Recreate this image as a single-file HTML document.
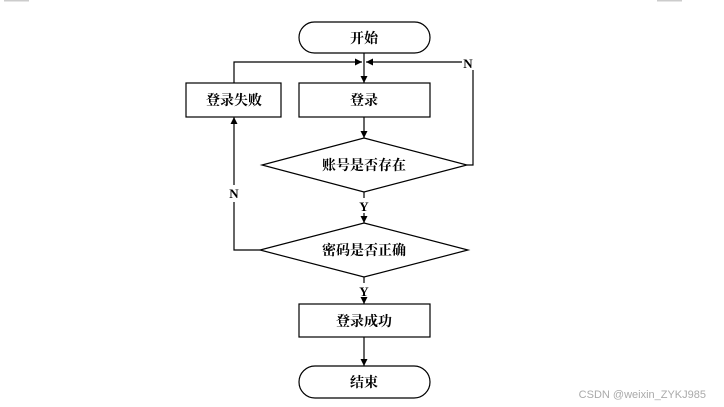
<!DOCTYPE html>
<html><head><meta charset="utf-8"><style>
html,body{margin:0;padding:0;background:#fff;}
svg{display:block;}
text{font-family:"Liberation Serif","Noto Serif CJK SC",serif;font-weight:bold;fill:#000;}
</style></head><body>
<svg width="724" height="407" viewBox="0 0 724 407" xmlns="http://www.w3.org/2000/svg">
<defs>
<marker id="a" viewBox="0 0 10 10" refX="10" refY="5" markerWidth="7" markerHeight="7" orient="auto-start-reverse" markerUnits="userSpaceOnUse">
<path d="M0,0 L10,5 L0,10 z" fill="#000"/></marker>
</defs>
<rect x="4" y="0" width="25" height="1.5" fill="#ccc"/>
<rect x="657" y="0" width="25" height="1.5" fill="#ccc"/>
<g stroke="#000" stroke-width="1.2" fill="none">
<rect x="299" y="22" width="131" height="31" rx="15.5"/>
<rect x="299" y="83" width="131" height="34"/>
<rect x="186" y="83" width="95" height="34"/>
<polygon points="364,138 467,165 364,192 262,165"/>
<polygon points="364,223 468,250 364,277 260,250"/>
<rect x="299" y="304" width="131" height="33"/>
<rect x="299" y="366" width="131" height="32" rx="16"/>
<line x1="364" y1="53" x2="364" y2="83" marker-end="url(#a)"/>
<polyline points="234,83 234,62 362,62" marker-end="url(#a)"/>
<polyline points="467,165 473,165 473,70"/>
<polyline points="462,62 366,62" marker-end="url(#a)"/>
<line x1="364" y1="117" x2="364" y2="138" marker-end="url(#a)"/>
<line x1="364" y1="192" x2="364" y2="198"/>
<line x1="364" y1="213" x2="364" y2="223" marker-end="url(#a)"/>
<polyline points="260,250 234,250 234,202"/>
<line x1="234" y1="185" x2="234" y2="117" marker-end="url(#a)"/>
<line x1="364" y1="277" x2="364" y2="283"/>
<line x1="364" y1="298" x2="364" y2="304" marker-end="url(#a)"/>
<line x1="364" y1="337" x2="364" y2="366" marker-end="url(#a)"/>
</g>
<g font-size="14" text-anchor="middle">
<text x="364" y="43">开始</text>
<text x="364" y="105">登录</text>
<text x="234" y="105">登录失败</text>
<text x="364" y="170">账号是否存在</text>
<text x="364" y="255">密码是否正确</text>
<text x="364" y="326">登录成功</text>
<text x="364" y="387">结束</text>
</g>
<g font-size="13" text-anchor="middle">
<text x="468" y="68">N</text>
<text x="234" y="198">N</text>
<text x="364" y="211">Y</text>
<text x="364" y="296">Y</text>
</g>
<text x="706" y="398" text-anchor="end" style="font-family:'Liberation Sans',sans-serif;font-weight:normal;fill:#aaa;font-size:11px">CSDN @weixin_ZYKJ985</text>
</svg>
</body></html>
